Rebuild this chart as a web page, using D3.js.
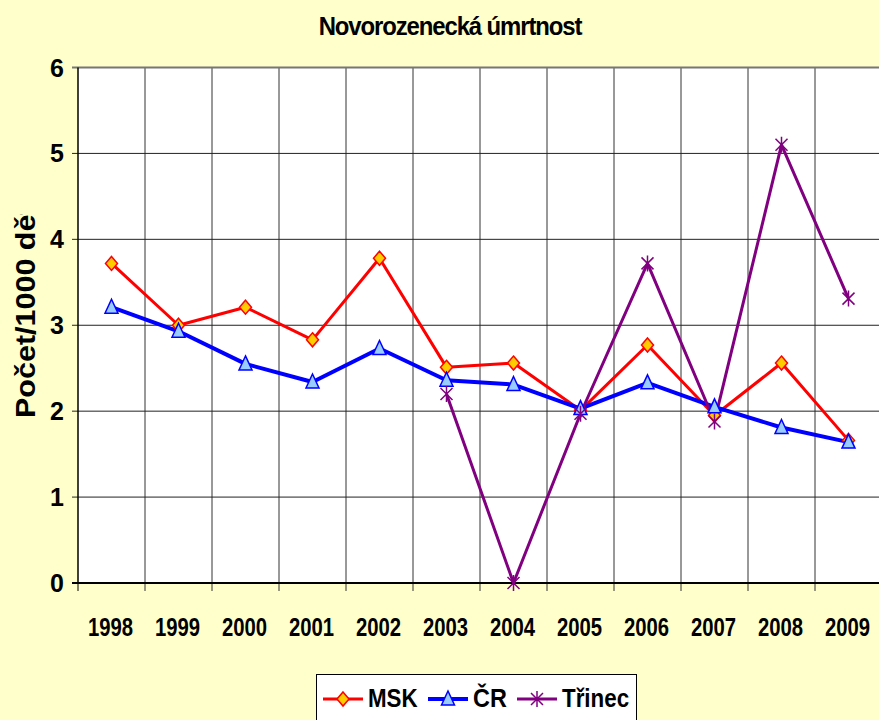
<!DOCTYPE html>
<html>
<head>
<meta charset="utf-8">
<script src="https://cdn.jsdelivr.net/npm/d3@7"></script>
<style>
  html, body { margin: 0; padding: 0; background: #FFFFCC; }
  svg { display: block; font-family: "Liberation Sans", Arial, sans-serif; }
</style>
</head>
<body>
<svg id="chart" width="879" height="720"></svg>
<script>
// roky a hodnoty
const years = ["1998", "1999", "2000", "2001", "2002", "2003", "2004", "2005", "2006", "2007", "2008", "2009"];
const msk = [3.72, 3.0, 3.21, 2.83, 3.78, 2.51, 2.56, 2.01, 2.77, 1.95, 2.56, 1.66];
const cr = [3.21, 2.93, 2.55, 2.34, 2.73, 2.36, 2.31, 2.03, 2.33, 2.05, 1.81, 1.64];
const trinec = [null, null, null, null, null, 2.2, 0, 1.97, 3.72, 1.88, 5.1, 3.31];
const yTicks = [0, 1, 2, 3, 4, 5, 6];

const series = [
  { name: "MSK", values: msk, color: "#FF0000", width: 3, marker: "diamond" },
  { name: "ČR", values: cr, color: "#0000FF", width: 4, marker: "triangle" },
  { name: "Třinec", values: trinec, color: "#800080", width: 3, marker: "star" }
];

function whenDocumentLoaded(action) {
  if (document.readyState === "loading") {
    document.addEventListener("DOMContentLoaded", action);
  } else {
    action();
  }
}

function drawMarker(g, type, color) {
  if (type === "diamond") {
    g.append("path")
     .attr("d", "M0,-7L6,0L0,7L-6,0Z")
     .attr("fill", "#FFCC00")
     .attr("stroke", color)
     .attr("stroke-width", 1.5);
  } else if (type === "triangle") {
    g.append("path")
     .attr("d", "M0,-8L6.5,6L-6.5,6Z")
     .attr("fill", "#99CCFF")
     .attr("stroke", color)
     .attr("stroke-width", 1.5);
  } else {
    g.append("path")
     .attr("d", "M0,-8V8M-6,-6L6,6M6,-6L-6,6")
     .attr("stroke", color)
     .attr("stroke-width", 1.5)
     .attr("fill", "none");
  }
}

whenDocumentLoaded(() => {
  const svg = d3.select("#chart");
  const left = 78, top = 67.5, bottom = 583;
  const band = 67;

  const x = d3.scaleBand()
              .domain(years)
              .range([left, left + band * years.length])
              .paddingInner(0).paddingOuter(0);
  const y = d3.scaleLinear().domain([0, 6]).range([bottom, top]);

  // plocha grafu
  svg.append("rect")
     .attr("x", left).attr("y", top)
     .attr("width", x.range()[1] - left)
     .attr("height", bottom - top)
     .attr("fill", "#FFFFFF");

  // svislé mřížky
  svg.append("g")
     .selectAll("line")
     .data(years.slice(1))
     .enter()
     .append("line")
     .attr("x1", d => x(d)).attr("x2", d => x(d))
     .attr("y1", top).attr("y2", bottom + 8)
     .attr("stroke", "#333")
     .attr("stroke-width", 1);
  svg.append("line")
     .attr("x1", left).attr("x2", left)
     .attr("y1", bottom).attr("y2", bottom + 8)
     .attr("stroke", "#000");

  // vodorovné mřížky
  svg.append("g")
     .selectAll("line")
     .data(yTicks.filter(d => d > 0))
     .enter()
     .append("line")
     .attr("x1", left - 6).attr("x2", x.range()[1])
     .attr("y1", d => y(d)).attr("y2", d => y(d))
     .attr("stroke", d => d === 6 ? "#777" : "#222")
     .attr("stroke-width", d => d === 6 ? 2 : 1);

  // osy
  svg.append("line")
     .attr("x1", left).attr("x2", left)
     .attr("y1", top).attr("y2", bottom)
     .attr("stroke", "#000").attr("stroke-width", 1.5);
  svg.append("line")
     .attr("x1", left - 6).attr("x2", x.range()[1])
     .attr("y1", bottom).attr("y2", bottom)
     .attr("stroke", "#000").attr("stroke-width", 2);

  // popisky osy Y
  svg.append("g")
     .selectAll("text")
     .data(yTicks)
     .enter()
     .append("text")
     .text(d => d)
     .attr("x", 64)
     .attr("y", d => y(d) + 9)
     .attr("text-anchor", "end")
     .style("font-size", "25px")
     .style("font-weight", "bold");

  // popisky osy X (zúžené písmo)
  svg.append("g")
     .selectAll("text")
     .data(years)
     .enter()
     .append("text")
     .text(d => d)
     .attr("text-anchor", "middle")
     .attr("transform", d => `translate(${x(d) + band / 2 - 1},636) scale(0.78,1)`)
     .style("font-size", "26px")
     .style("font-weight", "bold");

  // nadpis
  svg.append("text")
     .text("Novorozenecká úmrtnost")
     .attr("text-anchor", "middle")
     .attr("transform", "translate(450,35) scale(0.92,1)")
     .style("font-size", "26px")
     .style("font-weight", "bold")
     .style("letter-spacing", "-1.2px");

  // název osy Y (oříznutý nahoře)
  svg.append("clipPath").attr("id", "ytitle-clip")
     .append("rect").attr("x", 0).attr("y", 214).attr("width", 60).attr("height", 300);
  svg.append("g")
     .attr("clip-path", "url(#ytitle-clip)")
     .append("text")
     .text("Počet/1000 dětí")
     .attr("transform", "translate(35,418) rotate(-90) scale(1.13,1)")
     .style("font-size", "27px")
     .style("font-weight", "bold");

  // čáry řad
  const line = d3.line()
                 .defined(d => d.v !== null)
                 .x(d => x(d.year) + band / 2)
                 .y(d => y(d.v));

  series.forEach(s => {
    const pts = years.map((yr, i) => ({ year: yr, v: s.values[i] }));
    svg.append("path")
       .datum(pts)
       .attr("d", line)
       .attr("fill", "none")
       .attr("stroke", s.color)
       .attr("stroke-width", s.width)
       .attr("stroke-linejoin", "round");
  });

  series.forEach(s => {
    const pts = years.map((yr, i) => ({ year: yr, v: s.values[i] })).filter(d => d.v !== null);
    svg.append("g")
       .selectAll("g")
       .data(pts)
       .enter()
       .append("g")
       .attr("transform", d => `translate(${x(d.year) + band / 2},${y(d.v)})`)
       .each(function () { drawMarker(d3.select(this), s.marker, s.color); });
  });

  // legenda
  const legend = svg.append("g");
  legend.append("rect")
        .attr("x", 316.5).attr("y", 674.5)
        .attr("width", 320).attr("height", 60)
        .attr("fill", "#FFFFFF")
        .attr("stroke", "#000");
  const legendPos = [
    { lx: 323, tx: 368, sc: 0.86 },
    { lx: 428, tx: 473, sc: 0.9 },
    { lx: 517, tx: 562, sc: 0.86 }
  ];
  series.forEach((s, i) => {
    const p = legendPos[i];
    legend.append("line")
          .attr("x1", p.lx).attr("x2", p.lx + 40)
          .attr("y1", 699).attr("y2", 699)
          .attr("stroke", s.color)
          .attr("stroke-width", s.width);
    drawMarker(legend.append("g").attr("transform", `translate(${p.lx + 20},699)`), s.marker, s.color);
    legend.append("text")
          .text(s.name)
          .attr("transform", `translate(${p.tx},707) scale(${p.sc},1)`)
          .style("font-size", "26px")
          .style("font-weight", "bold");
  });
});
</script>
</body>
</html>
